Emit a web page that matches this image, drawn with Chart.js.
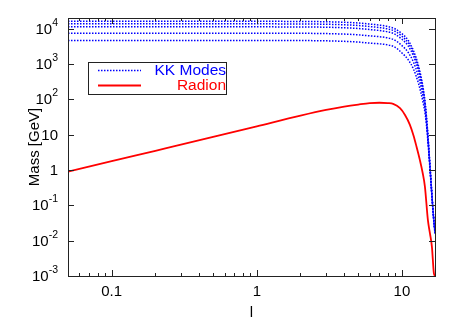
<!DOCTYPE html>
<html>
<head>
<meta charset="utf-8">
<script src="https://cdn.jsdelivr.net/npm/chart.js@4"></script>
<style>
  body { margin: 0; background: #fff; }
  #wrap { width: 463px; height: 324px; }
</style>
</head>
<body>
<div id="wrap"><canvas id="massChart" width="463" height="324"></canvas></div>
<script>
// l values for the KK mode curves
const lKK = [0.05, 0.1, 0.2, 0.5, 1, 2, 3, 4, 5, 6, 7, 8, 9, 10, 11, 12, 13, 14, 14.5, 15, 15.5, 16, 16.5, 16.9];

// KK modes, lowest to highest (GeV)
const kk1 = [4624, 4624, 4624, 4624, 4624, 4603, 4519, 4365, 4169, 3890, 3715, 3467, 2951, 2050, 1349, 724, 282, 80, 35.5, 8.91, 1.58, 0.251, 0.0447, 0.0158];
const kk2 = [7413, 7413, 7413, 7413, 7413, 7379, 7244, 6998, 6683, 6237, 5902, 5458, 4645, 3300, 2178, 1140, 437, 118, 46.1, 10.6, 1.73, 0.262, 0.0467, 0.0166];
const kk3 = [11220, 11220, 11220, 11220, 11220, 11169, 10965, 10593, 10116, 9441, 8851, 8128, 6918, 5000, 3327, 1698, 640, 160, 58.1, 12.4, 1.87, 0.273, 0.0485, 0.0172];
const kk4 = [13646, 13646, 13646, 13646, 13646, 13583, 13305, 12853, 12274, 11455, 10740, 9817, 8356, 6100, 4055, 2051, 767, 185, 64.7, 13.3, 1.94, 0.277, 0.0493, 0.0175];
const kk5 = [16069, 16069, 16069, 16069, 16069, 15996, 15668, 15136, 14454, 13490, 12589, 11482, 9772, 7200, 4786, 2399, 891, 210, 70.8, 14.1, 2.0, 0.282, 0.0501, 0.0178];

// l values and radion mass (GeV)
const lRadion = [0.05, 0.1, 0.2, 0.5, 1, 2, 3, 4, 5, 6, 7, 8, 8.7, 9.7, 10.5, 11.35, 12, 12.6, 13.3, 13.9, 14.4, 15.1, 15.6, 16.1, 16.6, 16.9];
const radion = [0.9, 1.78, 3.5, 8.6, 17.2, 34.5, 50, 62, 71, 78, 80, 78, 74, 56, 36, 19, 9.6, 4.6, 1.9, 0.82, 0.34, 0.038, 0.016, 0.0066, 0.0012, 0.001];

// tick labels
const xTicks = [0.1, 1, 10];
const xTickLabels = ['0.1', '1', '10'];
const yTicks = [1e4, 1e3, 1e2, 10, 1, 0.1, 0.01, 0.001];
const yTickBase = ['10', '10', '10', '10', '1', '10', '10', '10'];
const yTickExp = ['4', '3', '2', '', '', '-1', '-2', '-3'];

const FONT = '"Liberation Sans", Arial, sans-serif';
const BLUE = '#0000ff';
const RED = '#ff0000';

function toPoints(xs, ys) {
    return xs.map(function (l, i) { return { x: l, y: ys[i] }; });
}

function kkSet(ys) {
    return {
        label: 'KK Modes',
        data: toPoints(lKK, ys),
        borderColor: BLUE,
        borderWidth: 1.5,
        borderDash: [1.5, 1.5],
        pointRadius: 0,
        cubicInterpolationMode: 'monotone'
    };
}

const frame = {
    id: 'frame',
    afterDraw(chart) {
        const c = chart.ctx;
        const a = chart.chartArea;
        const xs = chart.scales.x;
        const ys = chart.scales.y;
        c.save();
        c.strokeStyle = '#222';
        c.lineWidth = 1;
        c.strokeRect(Math.round(a.left) + 0.5, Math.round(a.top) + 0.5,
            Math.round(a.right - a.left), Math.round(a.bottom - a.top));

        // x ticks (major + minor, bottom and top)
        c.beginPath();
        for (let d = 0.01; d <= 10; d *= 10) {
            for (let m = 1; m < 10; m++) {
                const v = d * m;
                if (v < xs.min || v > xs.max) continue;
                const px = Math.round(xs.getPixelForValue(v)) + 0.5;
                const len = m === 1 ? 6 : 3;
                c.moveTo(px, a.bottom); c.lineTo(px, a.bottom - len);
                c.moveTo(px, a.top); c.lineTo(px, a.top + len);
            }
        }
        // y ticks (left and right)
        yTicks.forEach(function (v) {
            const py = Math.round(ys.getPixelForValue(v)) + 0.5;
            c.moveTo(a.left, py); c.lineTo(a.left + 6, py);
            c.moveTo(a.right, py); c.lineTo(a.right - 6, py);
        });
        c.stroke();

        c.fillStyle = '#000';
        c.font = '15px ' + FONT;
        c.textAlign = 'center';
        c.textBaseline = 'middle';
        xTicks.forEach(function (v, i) {
            c.fillText(xTickLabels[i], xs.getPixelForValue(v), 292);
        });

        // y tick labels with superscript exponents
        yTicks.forEach(function (v, i) {
            const py = ys.getPixelForValue(v);
            c.textAlign = 'right';
            let right = 58;
            if (yTickExp[i]) {
                c.font = '10.5px ' + FONT;
                c.fillText(yTickExp[i], right, py - 6);
                right -= c.measureText(yTickExp[i]).width;
            }
            c.font = '15px ' + FONT;
            c.fillText(yTickBase[i], right, py + 1);
        });

        // axis titles
        c.font = '15px ' + FONT;
        c.textAlign = 'center';
        c.fillText('l', (a.left + a.right) / 2, 313);
        c.save();
        c.translate(35, (a.top + a.bottom) / 2);
        c.rotate(-Math.PI / 2);
        c.fillText('Mass [GeV]', 0, 0);
        c.restore();

        // key box
        c.fillStyle = '#fff';
        c.fillRect(88.5, 62.5, 138, 32);
        c.strokeStyle = '#222';
        c.strokeRect(88.5, 62.5, 138, 32);
        c.lineWidth = 1.5;
        c.strokeStyle = BLUE;
        c.setLineDash([1.5, 1.5]);
        c.beginPath(); c.moveTo(98, 70.5); c.lineTo(141, 70.5); c.stroke();
        c.setLineDash([]);
        c.lineWidth = 1.8;
        c.strokeStyle = RED;
        c.beginPath(); c.moveTo(98, 85.5); c.lineTo(141, 85.5); c.stroke();
        c.font = '15.5px ' + FONT;
        c.textAlign = 'right';
        c.fillStyle = BLUE;
        c.fillText('KK Modes', 226, 71);
        c.fillStyle = RED;
        c.fillText('Radion', 226, 86);
        c.restore();
    }
};

new Chart(document.getElementById('massChart'), {
    type: 'line',
    data: {
        datasets: [
            kkSet(kk1), kkSet(kk2), kkSet(kk3), kkSet(kk4), kkSet(kk5),
            {
                label: 'Radion',
                data: toPoints(lRadion, radion),
                borderColor: RED,
                borderWidth: 1.8,
                pointRadius: 0,
                cubicInterpolationMode: 'monotone'
            }
        ]
    },
    options: {
        responsive: false,
        animation: false,
        layout: { padding: { left: 68, right: 28, top: 18, bottom: 48 } },
        scales: {
            x: { type: 'logarithmic', min: 0.05, max: 16.9, display: false },
            y: { type: 'logarithmic', min: 0.001, max: 20000, display: false }
        },
        plugins: {
            legend: { display: false },
            tooltip: { enabled: false }
        }
    },
    plugins: [frame]
});
</script>
</body>
</html>
